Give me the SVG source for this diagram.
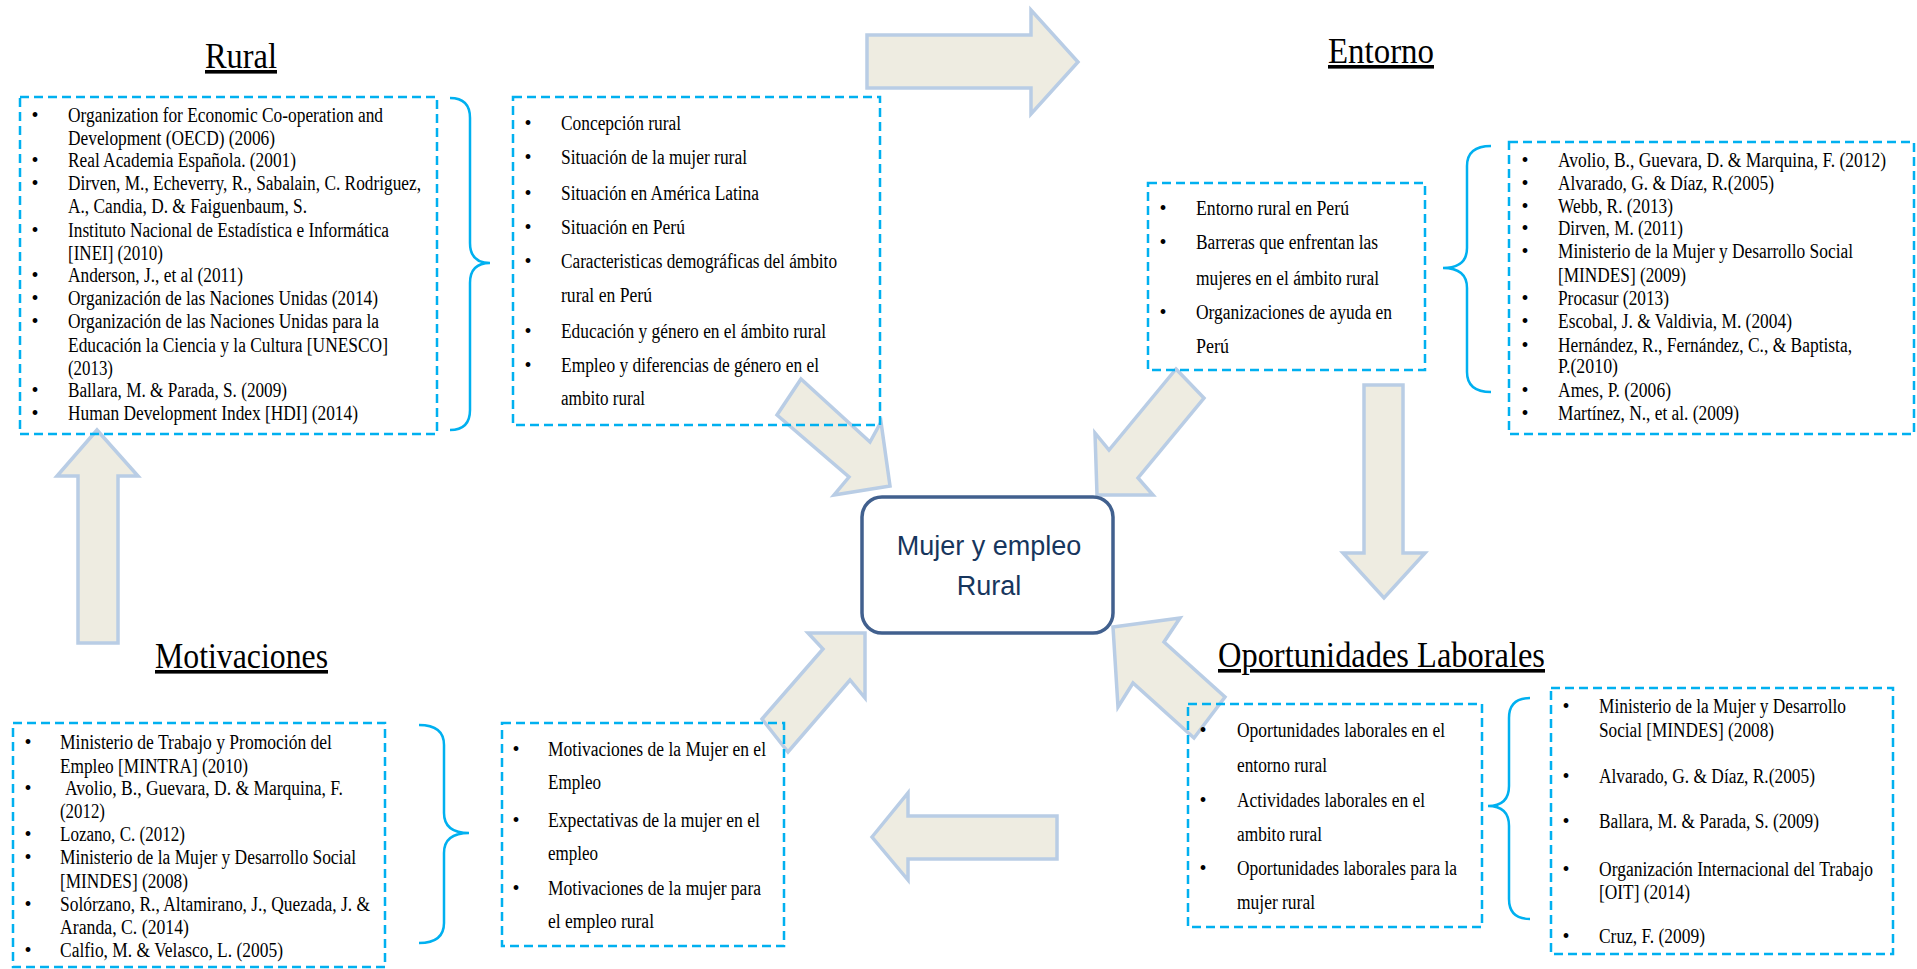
<svg xmlns="http://www.w3.org/2000/svg" width="1917" height="969" viewBox="0 0 1917 969">
<style>
.box{fill:none;stroke:#00B0F0;stroke-width:2.5;stroke-dasharray:9 5}
.brace{fill:none;stroke:#00B0F0;stroke-width:2.5}
.arrow{fill:#EEECE1;stroke:#B9CDE5;stroke-width:3.5;stroke-linejoin:miter}
.t{font-family:"Liberation Serif","Times New Roman",serif;font-size:20px;fill:#000}
.bl{font-family:"Liberation Serif","Times New Roman",serif;font-size:20px;fill:#000;text-anchor:middle}
.title{font-family:"Liberation Serif","Times New Roman",serif;font-size:36px;fill:#000;text-decoration:underline}
.center{fill:#fff;stroke:#41608E;stroke-width:3.5}
.ct{font-family:"Liberation Sans",Arial,sans-serif;font-size:27px;fill:#17365D;text-anchor:middle}
</style>
<rect width="1917" height="969" fill="#fff"/>
<g id="connectors">
<polygon class="arrow" points="867,35 1031,35 1031,10 1078,62 1031,114 1031,88 867,88"/>
<polygon class="arrow" points="97,430 138,476 118,476 118,643 78,643 78,476 57,476"/>
<polygon class="arrow" points="1364,385 1403,385 1403,553 1425,553 1384,598 1343,553 1364,553"/>
<polygon class="arrow" points="872,837 908,793 908,816 1057,816 1057,859 908,859 908,880"/>
<polygon class="arrow" points="801,379 870,442 881,422 890,486 834,495 849,477 777,415"/>
<polygon class="arrow" points="1176,369 1204,398 1138,478 1153,495 1097,495 1095,433 1109,450"/>
<polygon class="arrow" points="762,719 823,649 808,633 865,633 865,698 850,680 788,752"/>
<polygon class="arrow" points="1113,627 1180,618 1164,642 1225,697 1194,738 1133,683 1118,707"/>
<path class="brace" d="M450,98 Q470,98 470,118 L470,243 Q470,263 490,263 Q470,263 470,283 L470,410 Q470,430 450,430"/>
<path class="brace" d="M1491,146 Q1467,146 1467,166 L1467,248 Q1467,268 1443,268 Q1467,268 1467,288 L1467,372 Q1467,392 1491,392"/>
<path class="brace" d="M419,725 Q444,725 444,745 L444,813 Q444,833 469,833 Q444,833 444,853 L444,923 Q444,943 419,943"/>
<path class="brace" d="M1530,698 Q1509,698 1509,718 L1509,786 Q1509,806 1488,806 Q1509,806 1509,826 L1509,899 Q1509,919 1530,919"/>
</g>
<g id="title-rural"><text class="title" x="205" y="68" textLength="72" lengthAdjust="spacingAndGlyphs">Rural</text></g>
<g id="title-entorno"><text class="title" x="1328" y="63" textLength="106" lengthAdjust="spacingAndGlyphs">Entorno</text></g>
<g id="title-motivaciones"><text class="title" x="155" y="668" textLength="173" lengthAdjust="spacingAndGlyphs">Motivaciones</text></g>
<g id="title-oportunidades"><text class="title" x="1218" y="667" textLength="327" lengthAdjust="spacingAndGlyphs">Oportunidades Laborales</text></g>
<g id="rural-refs">
<rect class="box" x="20" y="97" width="417" height="337"/>
<text class="bl" x="35" y="122">•</text><text class="t" x="68" y="122" textLength="315" lengthAdjust="spacingAndGlyphs">Organization for Economic Co-operation and</text>
<text class="t" x="68" y="145" textLength="207" lengthAdjust="spacingAndGlyphs">Development (OECD) (2006)</text>
<text class="bl" x="35" y="167">•</text><text class="t" x="68" y="167" textLength="228" lengthAdjust="spacingAndGlyphs">Real Academia Española. (2001)</text>
<text class="bl" x="35" y="190">•</text><text class="t" x="68" y="190" textLength="353" lengthAdjust="spacingAndGlyphs">Dirven, M., Echeverry, R., Sabalain, C. Rodriguez,</text>
<text class="t" x="68" y="213" textLength="239" lengthAdjust="spacingAndGlyphs">A., Candia, D. &amp; Faiguenbaum, S.</text>
<text class="bl" x="35" y="237">•</text><text class="t" x="68" y="237" textLength="321" lengthAdjust="spacingAndGlyphs">Instituto Nacional de Estadística e Informática</text>
<text class="t" x="68" y="260" textLength="95" lengthAdjust="spacingAndGlyphs">[INEI] (2010)</text>
<text class="bl" x="35" y="282">•</text><text class="t" x="68" y="282" textLength="175" lengthAdjust="spacingAndGlyphs">Anderson, J., et al (2011)</text>
<text class="bl" x="35" y="305">•</text><text class="t" x="68" y="305" textLength="310" lengthAdjust="spacingAndGlyphs">Organización de las Naciones Unidas (2014)</text>
<text class="bl" x="35" y="328">•</text><text class="t" x="68" y="328" textLength="311" lengthAdjust="spacingAndGlyphs">Organización de las Naciones Unidas para la</text>
<text class="t" x="68" y="352" textLength="320" lengthAdjust="spacingAndGlyphs">Educación la Ciencia y la Cultura [UNESCO]</text>
<text class="t" x="68" y="375" textLength="45" lengthAdjust="spacingAndGlyphs">(2013)</text>
<text class="bl" x="35" y="397">•</text><text class="t" x="68" y="397" textLength="219" lengthAdjust="spacingAndGlyphs">Ballara, M. &amp; Parada, S. (2009)</text>
<text class="bl" x="35" y="420">•</text><text class="t" x="68" y="420" textLength="290" lengthAdjust="spacingAndGlyphs">Human Development Index [HDI] (2014)</text>
</g>
<g id="rural-topics">
<rect class="box" x="513" y="97" width="367" height="328"/>
<text class="bl" x="528" y="130">•</text><text class="t" x="561" y="130" textLength="120" lengthAdjust="spacingAndGlyphs">Concepción rural</text>
<text class="bl" x="528" y="164">•</text><text class="t" x="561" y="164" textLength="186" lengthAdjust="spacingAndGlyphs">Situación de la mujer rural</text>
<text class="bl" x="528" y="200">•</text><text class="t" x="561" y="200" textLength="198" lengthAdjust="spacingAndGlyphs">Situación en América Latina</text>
<text class="bl" x="528" y="234">•</text><text class="t" x="561" y="234" textLength="124" lengthAdjust="spacingAndGlyphs">Situación en Perú</text>
<text class="bl" x="528" y="268">•</text><text class="t" x="561" y="268" textLength="276" lengthAdjust="spacingAndGlyphs">Caracteristicas demográficas del ámbito</text>
<text class="t" x="561" y="302" textLength="91" lengthAdjust="spacingAndGlyphs">rural en Perú</text>
<text class="bl" x="528" y="338">•</text><text class="t" x="561" y="338" textLength="265" lengthAdjust="spacingAndGlyphs">Educación y género en el ámbito rural</text>
<text class="bl" x="528" y="372">•</text><text class="t" x="561" y="372" textLength="258" lengthAdjust="spacingAndGlyphs">Empleo y diferencias de género en el</text>
<text class="t" x="561" y="405" textLength="84" lengthAdjust="spacingAndGlyphs">ambito rural</text>
</g>
<g id="entorno-topics">
<rect class="box" x="1148" y="183" width="277" height="187"/>
<text class="bl" x="1163" y="215">•</text><text class="t" x="1196" y="215" textLength="153" lengthAdjust="spacingAndGlyphs">Entorno rural en Perú</text>
<text class="bl" x="1163" y="249">•</text><text class="t" x="1196" y="249" textLength="182" lengthAdjust="spacingAndGlyphs">Barreras que enfrentan las</text>
<text class="t" x="1196" y="285" textLength="183" lengthAdjust="spacingAndGlyphs">mujeres en el ámbito rural</text>
<text class="bl" x="1163" y="319">•</text><text class="t" x="1196" y="319" textLength="196" lengthAdjust="spacingAndGlyphs">Organizaciones de ayuda en</text>
<text class="t" x="1196" y="353" textLength="33" lengthAdjust="spacingAndGlyphs">Perú</text>
</g>
<g id="entorno-refs">
<rect class="box" x="1509" y="142" width="405" height="292"/>
<text class="bl" x="1525" y="167">•</text><text class="t" x="1558" y="167" textLength="328" lengthAdjust="spacingAndGlyphs">Avolio, B., Guevara, D. &amp; Marquina, F. (2012)</text>
<text class="bl" x="1525" y="190">•</text><text class="t" x="1558" y="190" textLength="216" lengthAdjust="spacingAndGlyphs">Alvarado, G. &amp; Díaz, R.(2005)</text>
<text class="bl" x="1525" y="213">•</text><text class="t" x="1558" y="213" textLength="115" lengthAdjust="spacingAndGlyphs">Webb, R. (2013)</text>
<text class="bl" x="1525" y="235">•</text><text class="t" x="1558" y="235" textLength="125" lengthAdjust="spacingAndGlyphs">Dirven, M. (2011)</text>
<text class="bl" x="1525" y="258">•</text><text class="t" x="1558" y="258" textLength="295" lengthAdjust="spacingAndGlyphs">Ministerio de la Mujer y Desarrollo Social</text>
<text class="t" x="1558" y="282" textLength="128" lengthAdjust="spacingAndGlyphs">[MINDES] (2009)</text>
<text class="bl" x="1525" y="305">•</text><text class="t" x="1558" y="305" textLength="111" lengthAdjust="spacingAndGlyphs">Procasur (2013)</text>
<text class="bl" x="1525" y="328">•</text><text class="t" x="1558" y="328" textLength="234" lengthAdjust="spacingAndGlyphs">Escobal, J. &amp; Valdivia, M. (2004)</text>
<text class="bl" x="1525" y="352">•</text><text class="t" x="1558" y="352" textLength="294" lengthAdjust="spacingAndGlyphs">Hernández, R., Fernández, C., &amp; Baptista,</text>
<text class="t" x="1558" y="373" textLength="60" lengthAdjust="spacingAndGlyphs">P.(2010)</text>
<text class="bl" x="1525" y="397">•</text><text class="t" x="1558" y="397" textLength="113" lengthAdjust="spacingAndGlyphs">Ames, P. (2006)</text>
<text class="bl" x="1525" y="420">•</text><text class="t" x="1558" y="420" textLength="181" lengthAdjust="spacingAndGlyphs">Martínez, N., et al. (2009)</text>
</g>
<g id="motivaciones-refs">
<rect class="box" x="13" y="723" width="372" height="244"/>
<text class="bl" x="28" y="749">•</text><text class="t" x="60" y="749" textLength="272" lengthAdjust="spacingAndGlyphs">Ministerio de Trabajo y Promoción del</text>
<text class="t" x="60" y="773" textLength="188" lengthAdjust="spacingAndGlyphs">Empleo [MINTRA] (2010)</text>
<text class="bl" x="28" y="795">•</text><text class="t" x="65" y="795" textLength="278" lengthAdjust="spacingAndGlyphs">Avolio, B., Guevara, D. &amp; Marquina, F.</text>
<text class="t" x="60" y="818" textLength="45" lengthAdjust="spacingAndGlyphs">(2012)</text>
<text class="bl" x="28" y="841">•</text><text class="t" x="60" y="841" textLength="125" lengthAdjust="spacingAndGlyphs">Lozano, C. (2012)</text>
<text class="bl" x="28" y="864">•</text><text class="t" x="60" y="864" textLength="296" lengthAdjust="spacingAndGlyphs">Ministerio de la Mujer y Desarrollo Social</text>
<text class="t" x="60" y="888" textLength="128" lengthAdjust="spacingAndGlyphs">[MINDES] (2008)</text>
<text class="bl" x="28" y="911">•</text><text class="t" x="60" y="911" textLength="310" lengthAdjust="spacingAndGlyphs">Solórzano, R., Altamirano, J., Quezada, J. &amp;</text>
<text class="t" x="60" y="934" textLength="129" lengthAdjust="spacingAndGlyphs">Aranda, C. (2014)</text>
<text class="bl" x="28" y="957">•</text><text class="t" x="60" y="957" textLength="223" lengthAdjust="spacingAndGlyphs">Calfio, M. &amp; Velasco, L. (2005)</text>
</g>
<g id="motivaciones-topics">
<rect class="box" x="502" y="723" width="282" height="223"/>
<text class="bl" x="516" y="756">•</text><text class="t" x="548" y="756" textLength="218" lengthAdjust="spacingAndGlyphs">Motivaciones de la Mujer en el</text>
<text class="t" x="548" y="789" textLength="53" lengthAdjust="spacingAndGlyphs">Empleo</text>
<text class="bl" x="516" y="827">•</text><text class="t" x="548" y="827" textLength="212" lengthAdjust="spacingAndGlyphs">Expectativas de la mujer en el</text>
<text class="t" x="548" y="860" textLength="50" lengthAdjust="spacingAndGlyphs">empleo</text>
<text class="bl" x="516" y="895">•</text><text class="t" x="548" y="895" textLength="213" lengthAdjust="spacingAndGlyphs">Motivaciones de la mujer para</text>
<text class="t" x="548" y="928" textLength="106" lengthAdjust="spacingAndGlyphs">el empleo rural</text>
</g>
<g id="oportunidades-topics">
<rect class="box" x="1188" y="704" width="294" height="223"/>
<text class="bl" x="1203" y="737">•</text><text class="t" x="1237" y="737" textLength="208" lengthAdjust="spacingAndGlyphs">Oportunidades laborales en el</text>
<text class="t" x="1237" y="772" textLength="90" lengthAdjust="spacingAndGlyphs">entorno rural</text>
<text class="bl" x="1203" y="807">•</text><text class="t" x="1237" y="807" textLength="188" lengthAdjust="spacingAndGlyphs">Actividades laborales en el</text>
<text class="t" x="1237" y="841" textLength="85" lengthAdjust="spacingAndGlyphs">ambito rural</text>
<text class="bl" x="1203" y="875">•</text><text class="t" x="1237" y="875" textLength="220" lengthAdjust="spacingAndGlyphs">Oportunidades laborales para la</text>
<text class="t" x="1237" y="909" textLength="78" lengthAdjust="spacingAndGlyphs">mujer rural</text>
</g>
<g id="oportunidades-refs">
<rect class="box" x="1551" y="688" width="342" height="266"/>
<text class="bl" x="1566" y="713">•</text><text class="t" x="1599" y="713" textLength="247" lengthAdjust="spacingAndGlyphs">Ministerio de la Mujer y Desarrollo</text>
<text class="t" x="1599" y="737" textLength="175" lengthAdjust="spacingAndGlyphs">Social [MINDES] (2008)</text>
<text class="bl" x="1566" y="783">•</text><text class="t" x="1599" y="783" textLength="216" lengthAdjust="spacingAndGlyphs">Alvarado, G. &amp; Díaz, R.(2005)</text>
<text class="bl" x="1566" y="828">•</text><text class="t" x="1599" y="828" textLength="220" lengthAdjust="spacingAndGlyphs">Ballara, M. &amp; Parada, S. (2009)</text>
<text class="bl" x="1566" y="876">•</text><text class="t" x="1599" y="876" textLength="274" lengthAdjust="spacingAndGlyphs">Organización Internacional del Trabajo</text>
<text class="t" x="1599" y="899" textLength="91" lengthAdjust="spacingAndGlyphs">[OIT] (2014)</text>
<text class="bl" x="1566" y="943">•</text><text class="t" x="1599" y="943" textLength="106" lengthAdjust="spacingAndGlyphs">Cruz, F. (2009)</text>
</g>
<g id="center-node">
<rect class="center" x="862" y="497" width="251" height="136" rx="20" ry="20"/>
<text class="ct" x="989" y="555">Mujer y empleo</text>
<text class="ct" x="989" y="595">Rural</text>
</g>
</svg>
